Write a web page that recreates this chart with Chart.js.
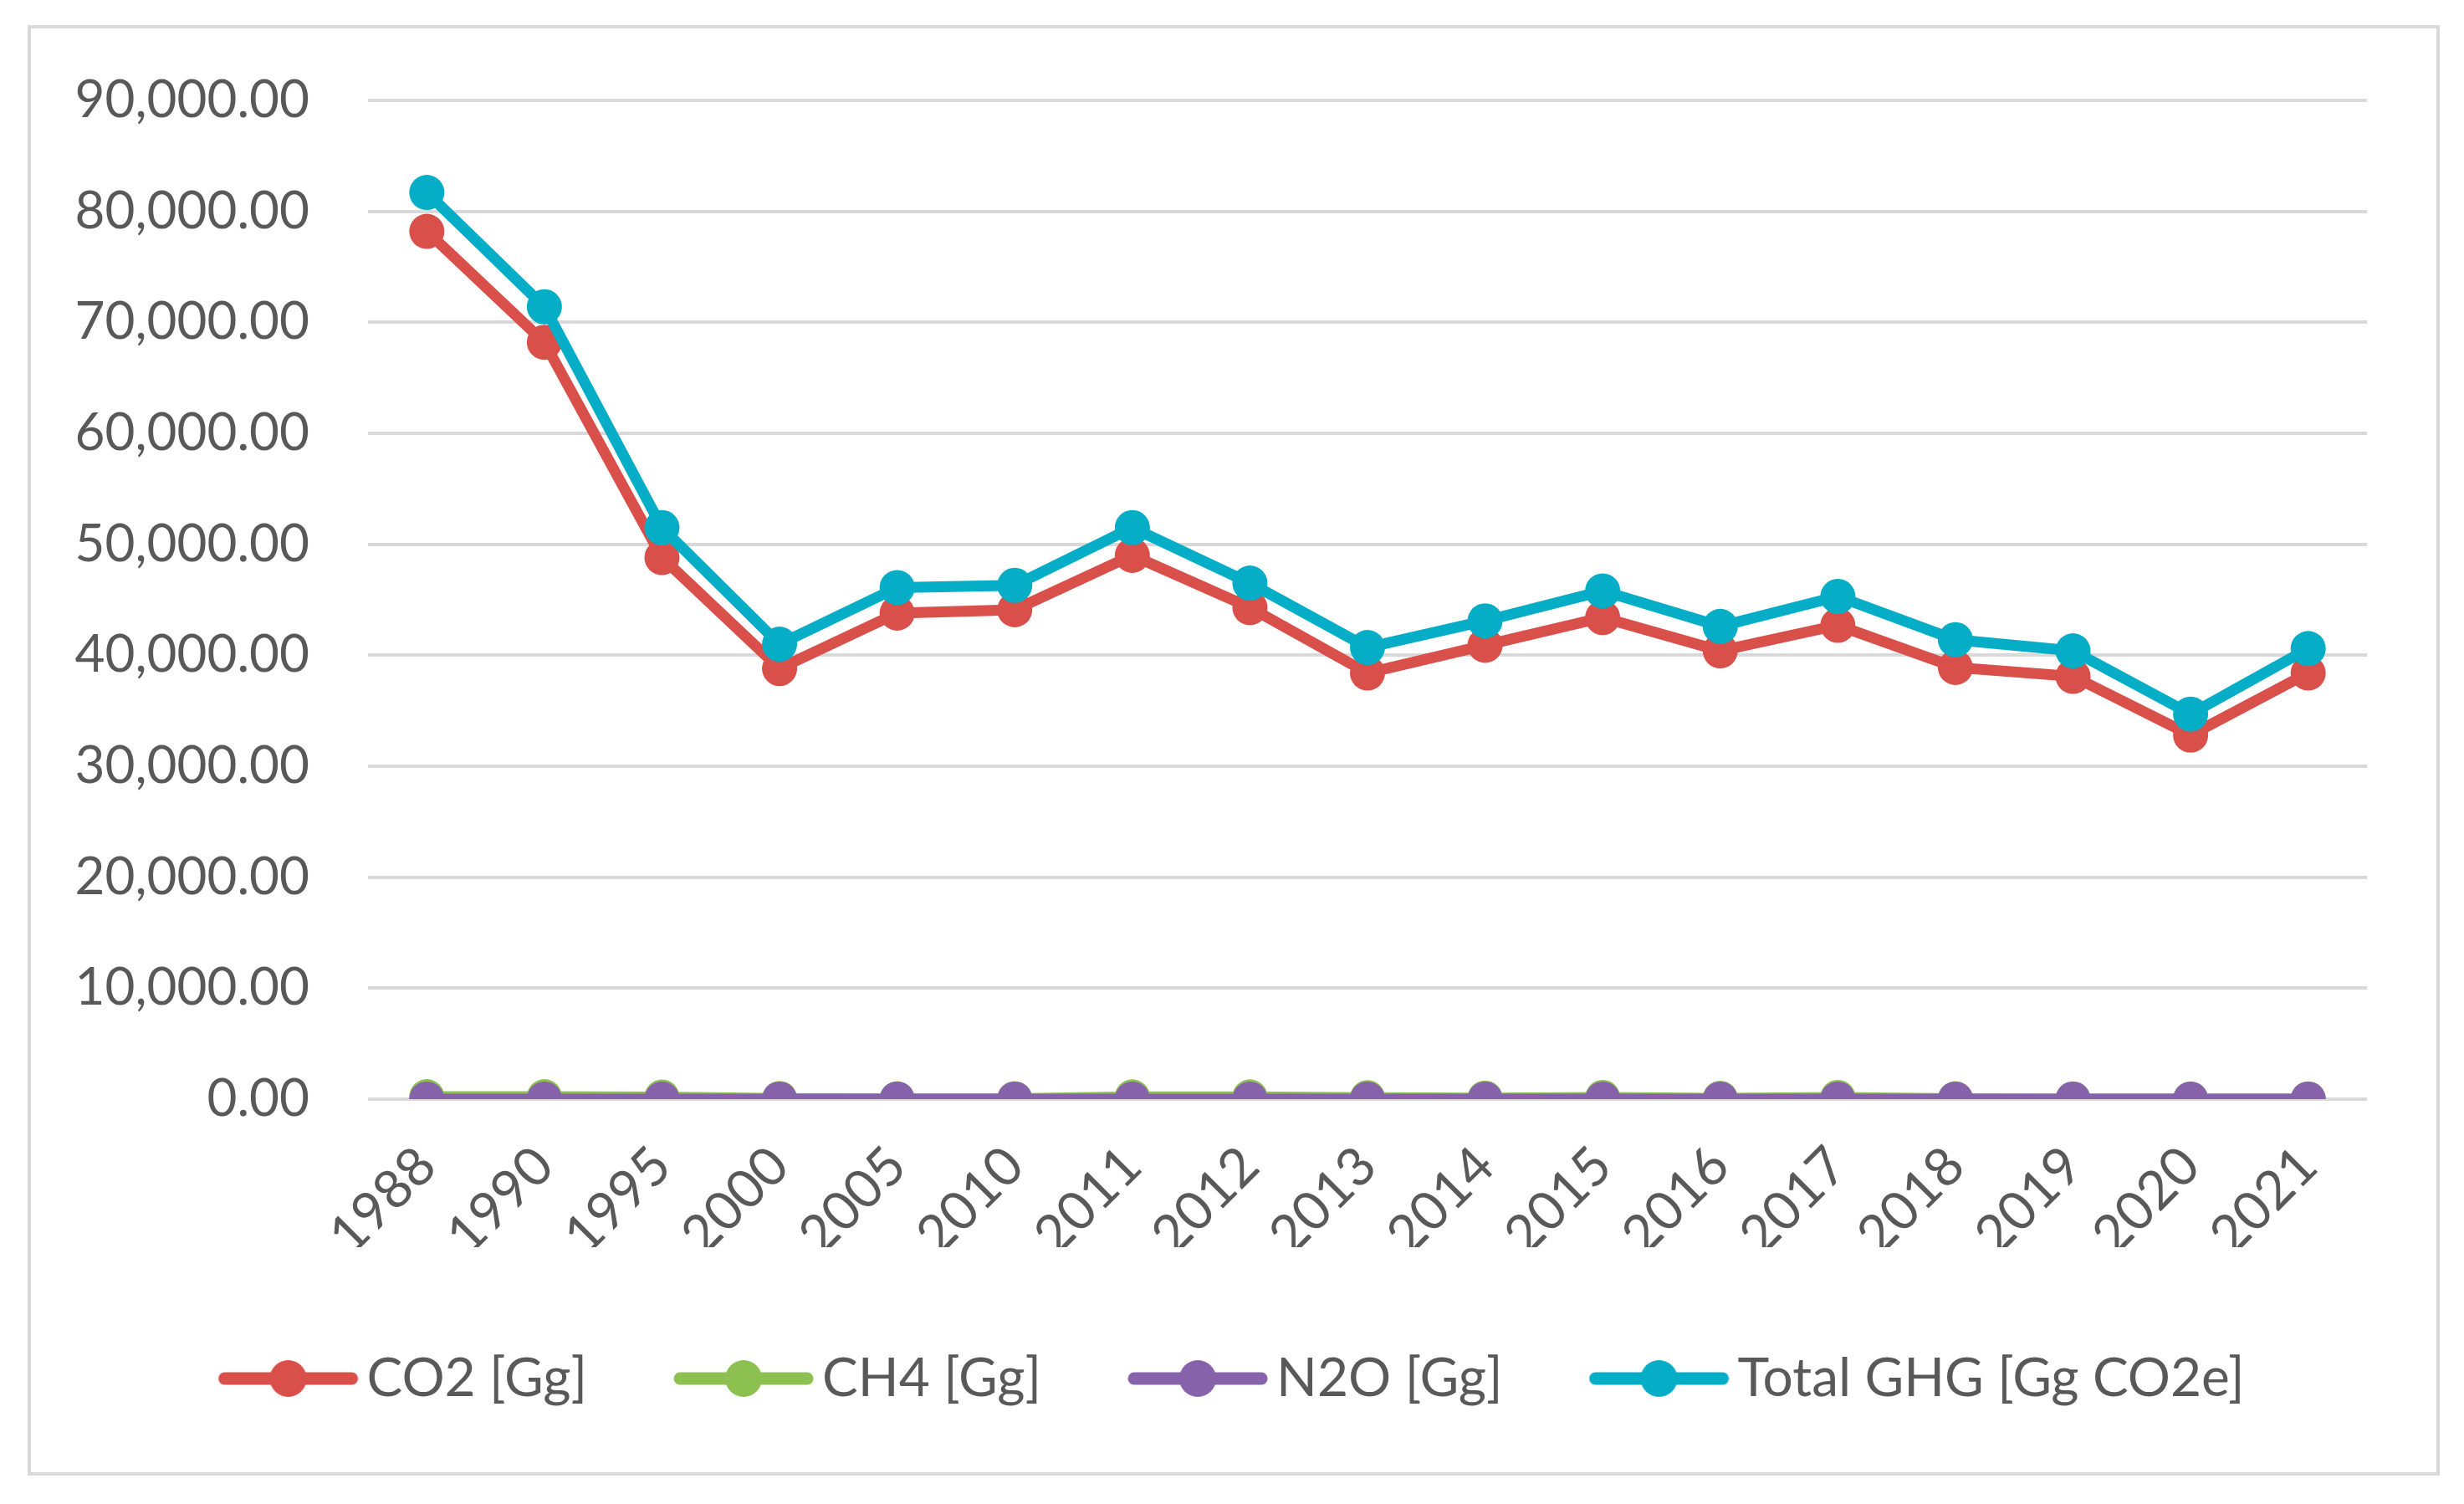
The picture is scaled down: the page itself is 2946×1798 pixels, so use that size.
<!DOCTYPE html>
<html>
<head>
<meta charset="utf-8">
<script src="https://cdn.jsdelivr.net/npm/chart.js@4.4.1/dist/chart.umd.min.js"></script>
<style>
  body { margin: 0; background: #fff; }
  #frame { position: absolute; left: 33px; top: 30px; width: 2876px; height: 1726px; border: 4px solid #d9d9d9; }
  #myCanvas { position: absolute; left: 0; top: 0; }
</style>
</head>
<body>
<div id="frame"></div>
<canvas id="myCanvas" width="2946" height="1798"></canvas>
<script>
const years = ['1988', '1990', '1995', '2000', '2005', '2010', '2011', '2012', '2013', '2014', '2015', '2016', '2017', '2018', '2019', '2020', '2021'];
const co2 = [78200, 68200, 48800, 38800, 43800, 44100, 49000, 44300, 38400, 40900, 43400, 40400, 42700, 38900, 38100, 32800, 38400];
const ch4 = [220, 220, 190, 60, 30, 40, 200, 200, 130, 100, 150, 80, 160, 30, 20, 15, 20];
const n2o = [3.2, 3.1, 2.6, 2.2, 2.4, 2.5, 2.7, 2.6, 2.4, 2.5, 2.6, 2.4, 2.5, 2.3, 2.3, 2.1, 2.3];
const totalGhg = [81700, 71400, 51500, 41000, 46100, 46300, 51500, 46500, 40700, 43100, 45800, 42600, 45300, 41400, 40400, 34700, 40600];
const seriesNames = ['CO2 [Gg]', 'CH4 [Gg]', 'N2O [Gg]', 'Total GHG [Gg CO2e]'];
const yTicks = [0, 10000, 20000, 30000, 40000, 50000, 60000, 70000, 80000, 90000];

const colors = ['#d9504b', '#8cc152', '#8662aa', '#05adc6'];
const textColor = '#595959';
const fontFamily = 'Lato, "Open Sans", sans-serif';

// little line-with-dot picture for each legend entry, like excel draws it
function legendMark(color) {
    const c = document.createElement('canvas');
    c.width = 168;
    c.height = 48;
    const g = c.getContext('2d');
    g.strokeStyle = color;
    g.lineWidth = 15;
    g.lineCap = 'round';
    g.beginPath();
    g.moveTo(8, 24);
    g.lineTo(160, 24);
    g.stroke();
    g.fillStyle = color;
    g.beginPath();
    g.arc(84, 24, 22, 0, Math.PI * 2);
    g.fill();
    return c;
}

function makeSet(label, data, color, order) {
    return {
        label: label,
        data: data,
        borderColor: color,
        backgroundColor: color,
        borderWidth: 13,
        pointRadius: 21,
        pointHoverRadius: 21,
        pointBorderWidth: 0,
        pointBackgroundColor: color,
        pointStyle: 'circle',
        tension: 0,
        order: order,
        mark: legendMark(color)
    };
}

// legend box normally stops at the right padding, so it sits off centre; stretch it over the whole canvas
const legendSpan = {
    id: 'legendSpan',
    afterLayout: function (chart) {
        chart.legend.left = 20;
        chart.legend.right = chart.width;
    }
};

const ctx = document.getElementById('myCanvas').getContext('2d');
new Chart(ctx, {
    type: 'line',
    data: {
        labels: years,
        datasets: [
            makeSet(seriesNames[0], co2, colors[0], 3),
            makeSet(seriesNames[1], ch4, colors[1], 2),
            makeSet(seriesNames[2], n2o, colors[2], 1),
            makeSet(seriesNames[3], totalGhg, colors[3], 0)
        ]
    },
    options: {
        responsive: false,
        devicePixelRatio: 1,
        animation: false,
        layout: {
            padding: { left: 0, right: 116, top: 120, bottom: 108 }
        },
        plugins: {
            tooltip: { enabled: false },
            legend: {
                position: 'bottom',
                labels: {
                    usePointStyle: true,
                    pointStyleWidth: 124,
                    boxHeight: 48,
                    padding: 125,
                    color: textColor,
                    font: { family: fontFamily, size: 64 },
                    generateLabels: function (chart) {
                        return chart.data.datasets.map(function (ds, i) {
                            return {
                                text: ds.label,
                                datasetIndex: i,
                                fontColor: textColor,
                                fillStyle: ds.borderColor,
                                strokeStyle: ds.borderColor,
                                lineWidth: 0,
                                pointStyle: ds.mark,
                                hidden: false
                            };
                        });
                    }
                }
            }
        },
        scales: {
            x: {
                offset: true,
                grid: { display: false, drawTicks: false },
                border: { display: false },
                ticks: {
                    color: textColor,
                    font: { family: fontFamily, size: 64 },
                    minRotation: 45,
                    maxRotation: 45,
                    padding: 42,
                    autoSkip: false
                },
                afterFit: function (scale) { scale.height = 177; }
            },
            y: {
                min: 0,
                max: 90000,
                afterBuildTicks: function (scale) {
                    scale.ticks = yTicks.map(function (v) { return { value: v }; });
                },
                grid: { color: '#d9d9d9', lineWidth: 4, drawTicks: false },
                border: { display: false },
                ticks: {
                    color: textColor,
                    font: { family: fontFamily, size: 62 },
                    padding: 70,
                    callback: function (v) {
                        return Number(v).toLocaleString('en-US', { minimumFractionDigits: 2, maximumFractionDigits: 2 });
                    }
                },
                afterFit: function (scale) { scale.width = 440; }
            }
        }
    },
    plugins: [legendSpan]
});
</script>
</body>
</html>
